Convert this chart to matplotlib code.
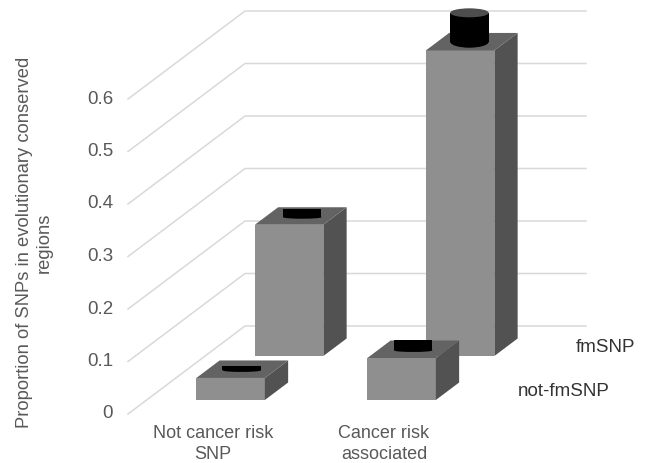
import matplotlib
matplotlib.use("Agg")
import matplotlib.pyplot as plt
from matplotlib.patches import Ellipse

plt.rcParams["font.family"] = ["Liberation Sans", "DejaVu Sans"]

categories = ["Not cancer risk\nSNP", "Cancer risk\nassociated"]
series_names = ["not-fmSNP", "fmSNP"]
not_fmsnp = [0.042, 0.08]
fmsnp = [0.25, 0.582]
not_fmsnp_err = [0.007, 0.017]
fmsnp_err = [0.013, 0.055]
ticks = [0, 0.1, 0.2, 0.3, 0.4, 0.5, 0.6]

W, H = 645, 463
PX_X = 171.0   # pixels per category
PX_Y = 525.0   # pixels per unit of value
X0, Y0 = 212.0, 49.0   # pixel position of category 0, value 0

# oblique projection: depth 0 is the front of the floor, depth 1 the back wall
DX = 117.0 / PX_X
DY = 88.0 / PX_Y
BAR_W = 68.5 / PX_X
ROW_DEPTH = [(0.159, 0.358), (0.659, 0.858)]

FRONT, TOP, SIDE = "#8f8f8f", "#636363", "#525252"
TEXT = "#595959"


def proj(x, depth, v):
    return x + depth * DX, v + depth * DY


def draw_bar(ax, x, row, v, err, z, shift):
    d0, d1 = ROW_DEPTH[row]
    x0, x1 = x - BAR_W / 2, x + BAR_W / 2

    def poly(points, color):
        pts = [proj(*p) for p in points]
        ax.fill([p[0] for p in pts], [p[1] for p in pts], color=color, lw=0, zorder=z)

    poly([(x0, d0, 0), (x1, d0, 0), (x1, d0, v), (x0, d0, v)], FRONT)
    poly([(x1, d0, 0), (x1, d1, 0), (x1, d1, v), (x1, d0, v)], SIDE)
    poly([(x0, d0, v), (x1, d0, v), (x1, d1, v), (x0, d1, v)], TOP)

    # the error bar is a black cylinder standing on the middle of the top face
    cx, cy = proj(x, (d0 + d1) / 2, v)
    cx += shift / PX_X
    tall = err > 0.03
    w = 38.5 / PX_X
    if tall:
        base, low = cy, 12.0 / PX_Y
    else:
        base, low = cy - 1.2 / PX_Y, 3.0 / PX_Y
    top = cy + err
    ax.add_patch(Ellipse((cx, base), w, low, color="black", lw=0, zorder=z))
    ax.fill([cx - w / 2, cx + w / 2, cx + w / 2, cx - w / 2],
            [base, base, top, top], color="black", lw=0, zorder=z)
    if tall:
        ax.add_patch(Ellipse((cx, top), w, 9.0 / PX_Y, color="#4d4d4d", lw=0, zorder=z))


fig = plt.figure(figsize=(W / 100, H / 100), dpi=100)
ax = fig.add_axes([0, 0, 1, 1])
ax.set_xlim(-X0 / PX_X, (W - X0) / PX_X)
ax.set_ylim(-Y0 / PX_Y, (H - Y0) / PX_Y)
ax.axis("off")

# floor/wall gridlines
left = (128 - X0) / PX_X
right = (586 - X0) / PX_X - DX
for t in ticks:
    p0 = proj(left, 0, t)
    p1 = proj(left, 1, t)
    p2 = proj(right, 1, t)
    ax.plot([p0[0], p1[0], p2[0]], [p0[1], p1[1], p2[1]], color="#d9d9d9", lw=1.1, zorder=1)
    ax.text(left - 15 / PX_X, t, str(t), ha="right", va="center",
            fontsize=13.5, color=TEXT)

# back row first so the front row paints over it
for i, s in enumerate([1.5, -2.3]):
    draw_bar(ax, i, 1, fmsnp[i], fmsnp_err[i], 2 + i, s)
for i, s in enumerate([-0.5, 0.0]):
    draw_bar(ax, i, 0, not_fmsnp[i], not_fmsnp_err[i], 5 + i, s)

for i, name in enumerate(categories):
    ax.text(i + 1 / PX_X, -30 / PX_Y, name, ha="center", va="center",
            fontsize=13, color=TEXT, linespacing=1.3)

fig.text(518 / W, 1 - 392 / H, series_names[0], ha="left", va="center", fontsize=13.5, color="#333333")
fig.text(576 / W, 1 - 347 / H, series_names[1], ha="left", va="center", fontsize=13.5, color="#333333")

fig.text(34.5 / W, 1 - 242.5 / H, "Proportion of SNPs in evolutionary conserved\nregions",
         rotation=90, ha="center", va="center", multialignment="center",
         fontsize=13.2, color=TEXT, linespacing=1.22)

fig.savefig("out.png", dpi=100)
